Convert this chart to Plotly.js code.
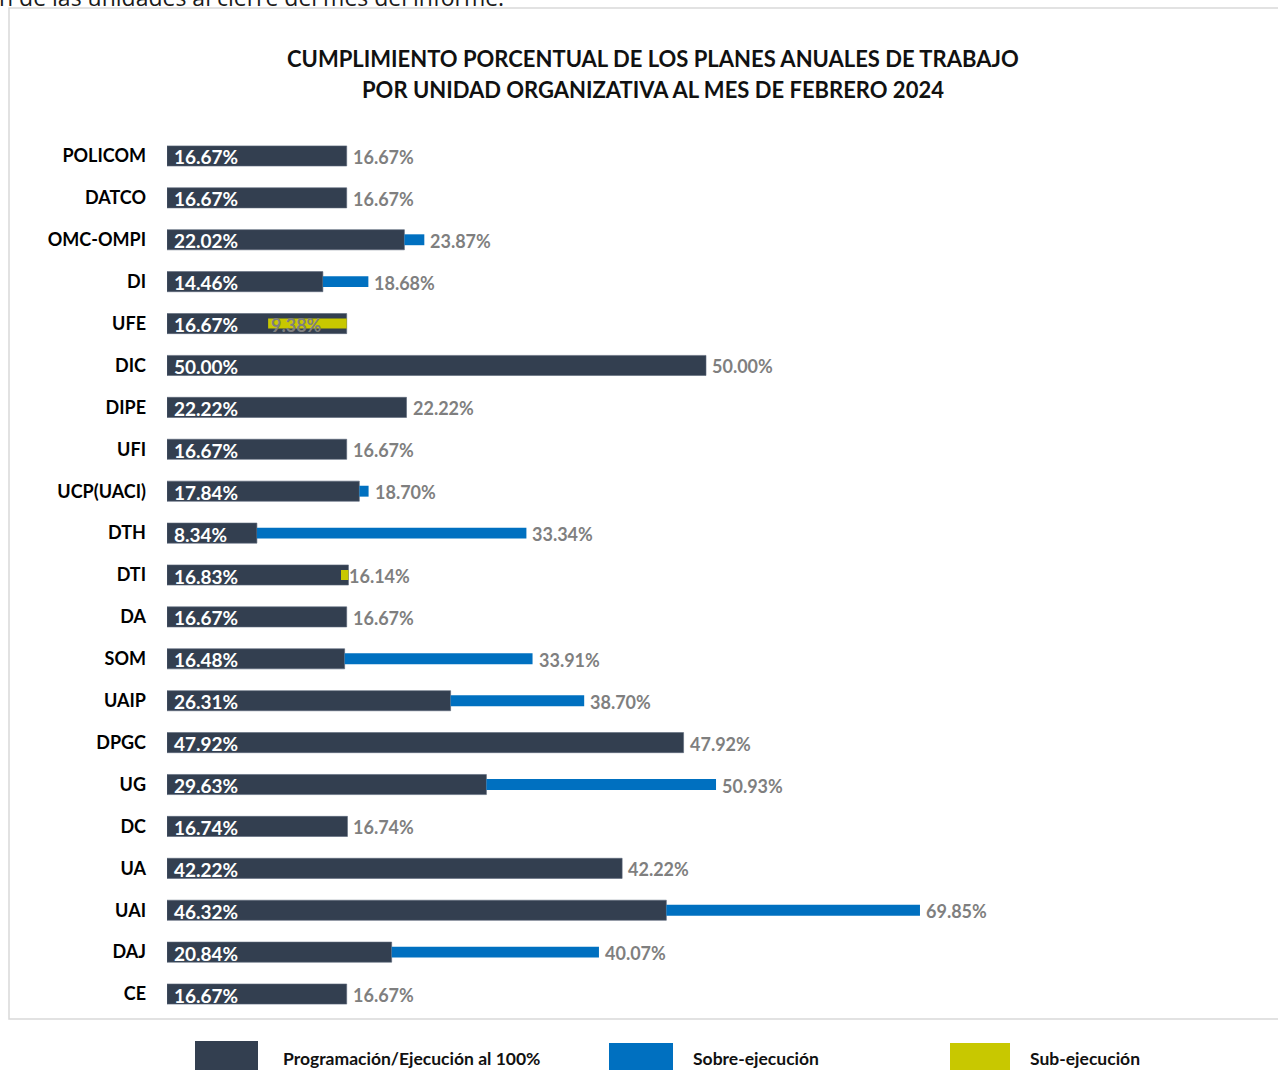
<!DOCTYPE html>
<html>
<head>
<meta charset="utf-8">
<script src="https://cdn.plot.ly/plotly-3.0.1.min.js"></script>
<style>html,body{margin:0;padding:0;background:#fff;}</style>
</head>
<body>
<div id="chart" style="width:1278px;height:1070px;"></div>
<script>
// ---- Data ----
const units = ["POLICOM","DATCO","OMC-OMPI","DI","UFE","DIC","DIPE","UFI","UCP(UACI)","DTH","DTI","DA","SOM","UAIP","DPGC","UG","DC","UA","UAI","DAJ","CE"];
const programado = [16.67,16.67,22.02,14.46,16.67,50.00,22.22,16.67,17.84,8.34,16.83,16.67,16.48,26.31,47.92,29.63,16.74,42.22,46.32,20.84,16.67];
const ejecutado  = [16.67,16.67,23.87,18.68,9.38,50.00,22.22,16.67,18.70,33.34,16.14,16.67,33.91,38.70,47.92,50.93,16.74,42.22,69.85,40.07,16.67];
const titleLines = ["CUMPLIMIENTO PORCENTUAL DE LOS PLANES ANUALES DE TRABAJO","POR UNIDAD ORGANIZATIVA AL MES DE FEBRERO 2024"];
const legendNames = ["Programación/Ejecución al 100%","Sobre-ejecución","Sub-ejecución"];
const topText = "n de las unidades al cierre del mes del informe.";

// ---- Styles ----
const C_DARK = "#333f50", C_BLUE = "#0070c0", C_YEL = "#c8c800", C_GRAY = "#7f7f7f";
const FONT = "Lato, 'Open Sans', sans-serif";
const W = 1278, H = 1070;
const PL = 167, PR = 1245, PT = 135, PB = 1015;
const px2x = p => (p - PL) / (PR - PL);
const py2y = p => 1 - (p - PT) / (PB - PT);
const fmt = v => v.toFixed(2) + "%";

// derived segments
const overBase = [], overLen = [], underBase = [], underLen = [];
programado.forEach((p, i) => {
  const e = ejecutado[i];
  overBase.push(p);  overLen.push(e > p ? e - p : null);
  underBase.push(e); underLen.push(e < p ? p - e : null);
});

const traces = [
  {type:"bar", orientation:"h", y:units, x:programado, width:0.48,
   marker:{color:C_DARK, line:{color:"#5a6678", width:0.6}}, hoverinfo:"skip", name:legendNames[0]},
  {type:"bar", orientation:"h", y:units, x:overLen, base:overBase, width:0.26,
   marker:{color:C_BLUE}, hoverinfo:"skip", name:legendNames[1]},
  {type:"bar", orientation:"h", y:units, x:underLen, base:underBase, width:0.24,
   marker:{color:C_YEL}, hoverinfo:"skip", name:legendNames[2]}
];

const annotations = [];
units.forEach((u, i) => {
  annotations.push({x:0, y:u, xref:"x", yref:"y", text:fmt(programado[i]), showarrow:false,
    xanchor:"left", yanchor:"middle", xshift:5, yshift:-1,
    font:{family:FONT, size:19, color:"#ffffff", weight:"bold"}});
  const p = programado[i], e = ejecutado[i];
  let x = Math.max(p, e), shift = 4;
  if (e < p) { if (p - e > 3) { x = e; shift = 1; } else { x = p; shift = -1; } }
  annotations.push({x:x, y:u, xref:"x", yref:"y", text:fmt(e), showarrow:false,
    xanchor:"left", yanchor:"middle", xshift:shift, yshift:-1,
    font:{family:FONT, size:18, color:C_GRAY, weight:"bold"}});
});
// title
titleLines.forEach((t, k) => {
  annotations.push({xref:"paper", yref:"paper", x:px2x(653), y:py2y(59 + 30*k), text:t, showarrow:false,
    xanchor:"center", yanchor:"middle", font:{family:FONT, size:22, color:"#111111", weight:"bold"}});
});
// top text (cut by the page edge as in the source)
annotations.push({xref:"paper", yref:"paper", x:px2x(506), y:py2y(-3), text:topText, showarrow:false,
  xanchor:"right", yanchor:"middle", font:{family:"'Open Sans', sans-serif", size:23, color:"#1a1a1a"}});

// legend (manual, big swatches)
const legendItems = [
  {x0:195, x1:258, y0:1041, tx:281, color:C_DARK},
  {x0:609, x1:673, y0:1043, tx:691, color:C_BLUE},
  {x0:950, x1:1010, y0:1043, tx:1028, color:C_YEL}
];
const shapes = [
  {type:"rect", xref:"paper", yref:"paper", x0:px2x(9), x1:px2x(1295), y0:py2y(8), y1:py2y(1019),
   line:{color:"#d9d9d9", width:1.5}, fillcolor:"rgba(0,0,0,0)", layer:"below"}
];
legendItems.forEach((l, k) => {
  shapes.push({type:"rect", xref:"paper", yref:"paper", x0:px2x(l.x0), x1:px2x(l.x1), y0:py2y(l.y0), y1:py2y(1080),
    line:{width:0}, fillcolor:l.color});
  annotations.push({xref:"paper", yref:"paper", x:px2x(l.tx), y:py2y(1058), text:legendNames[k], showarrow:false,
    xanchor:"left", yanchor:"middle", font:{family:FONT, size:17.5, color:"#111111", weight:"bold"}});
});

const layout = {
  width:W, height:H,
  margin:{l:PL, r:W-PR, t:PT, b:H-PB, pad:0},
  paper_bgcolor:"#ffffff", plot_bgcolor:"rgba(0,0,0,0)",
  barmode:"overlay", showlegend:false,
  xaxis:{range:[0,100], showgrid:false, zeroline:false, showticklabels:false, showline:false, fixedrange:true},
  yaxis:{type:"category", autorange:"reversed", showgrid:false, zeroline:false, showline:false, ticks:"",
    ticklabelstandoff:20, tickfont:{family:FONT, size:18, color:"#000000", weight:"bold"}},
  annotations:annotations, shapes:shapes
};

Plotly.newPlot("chart", traces, layout, {displayModeBar:false, staticPlot:true});
</script>
</body>
</html>
